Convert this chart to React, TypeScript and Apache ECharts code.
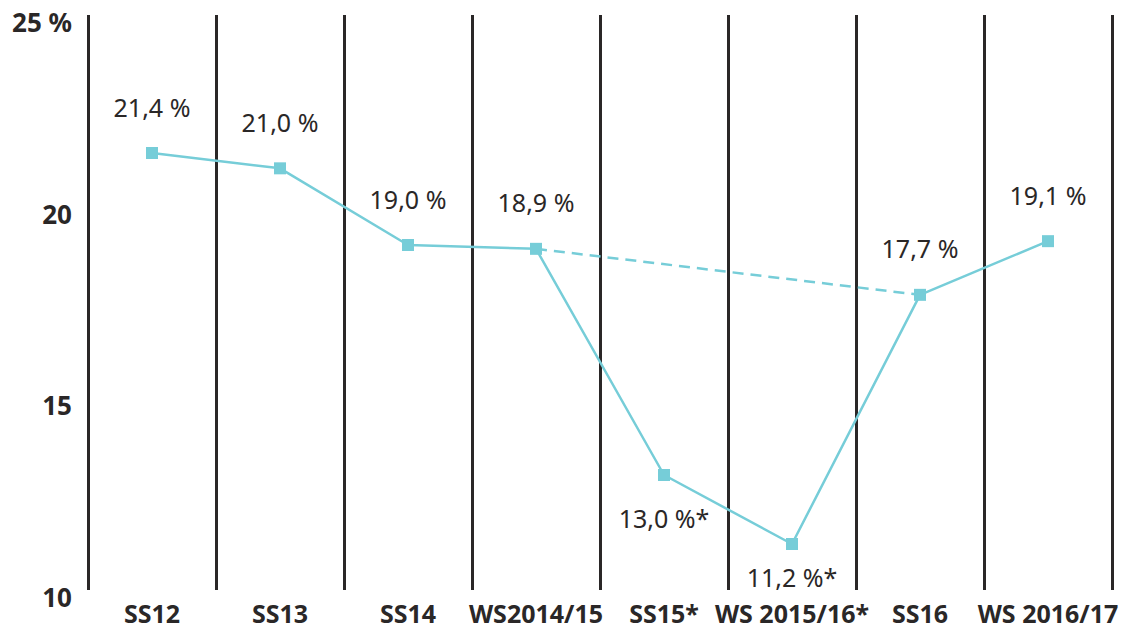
import React, { useEffect, useRef } from "react";
import * as echarts from "echarts";

const categories = ["SS12", "SS13", "SS14", "WS2014/15", "SS15*", "WS 2015/16*", "SS16", "WS 2016/17"];
const values = [21.4, 21.0, 19.0, 18.9, 13.0, 11.2, 17.7, 19.1];
const valueLabels = ["21,4 %", "21,0 %", "19,0 %", "18,9 %", "13,0 %*", "11,2 %*", "17,7 %", "19,1 %"];
const labelBelow = [false, false, false, false, true, true, false, false];
const dashedValues = [null, null, null, 18.9, null, null, 17.7, null];
const yTicks = [10, 15, 20, 25];

const TEAL = "#76cdd8";
const DARK = "#2a2727";
const FONT = "'Noto Sans', 'Open Sans', sans-serif";

export default function App() {
  const ref = useRef<HTMLDivElement>(null);
  useEffect(() => {
    if (!ref.current) return;
    const chart = echarts.init(ref.current, undefined, { renderer: "svg" });
    chart.setOption({
      animation: false,
      grid: { left: 88, right: 24, top: 15, bottom: 47, containLabel: false },
      xAxis: {
        type: "category",
        data: categories,
        boundaryGap: true,
        axisLine: { show: false },
        axisTick: { show: false },
        splitLine: { show: true, interval: 0, lineStyle: { color: DARK, width: 3 } },
        axisLabel: {
          interval: 0,
          margin: 10,
          color: DARK,
          fontFamily: FONT,
          fontWeight: "bold",
          fontSize: 25,
        },
      },
      yAxis: {
        type: "value",
        min: 10,
        max: 25,
        interval: 5,
        axisLine: { show: false },
        axisTick: { show: false },
        splitLine: { show: false },
        axisLabel: {
          margin: 16,
          color: DARK,
          fontFamily: FONT,
          fontWeight: "bold",
          fontSize: 26,
          verticalAlign: "top",
          lineHeight: 14,
          formatter: (v: number) => (v === yTicks[yTicks.length - 1] ? v + " %" : String(v)),
        },
      },
      series: [
        {
          type: "line",
          data: dashedValues,
          connectNulls: true,
          showSymbol: false,
          symbol: "none",
          lineStyle: { color: TEAL, width: 2.5, type: [11, 7] },
          z: 2,
        },
        {
          type: "line",
          data: values.map((v, i) => ({
            value: v,
            label: {
              show: true,
              position: labelBelow[i] ? "bottom" : "top",
              distance: i === 5 ? 14 : i === 4 ? 24 : 28,
              formatter: valueLabels[i],
            },
          })),
          symbol: "rect",
          symbolSize: 12,
          itemStyle: { color: TEAL },
          lineStyle: { color: TEAL, width: 2.5 },
          label: {
            show: true,
            color: DARK,
            fontFamily: FONT,
            fontSize: 25,
          },
          z: 3,
        },
      ],
    });
    return () => chart.dispose();
  }, []);
  return (
    <div
      ref={ref}
      style={{ position: "fixed", left: 0, top: 0, width: 1136, height: 637, background: "#fff" }}
    />
  );
}
